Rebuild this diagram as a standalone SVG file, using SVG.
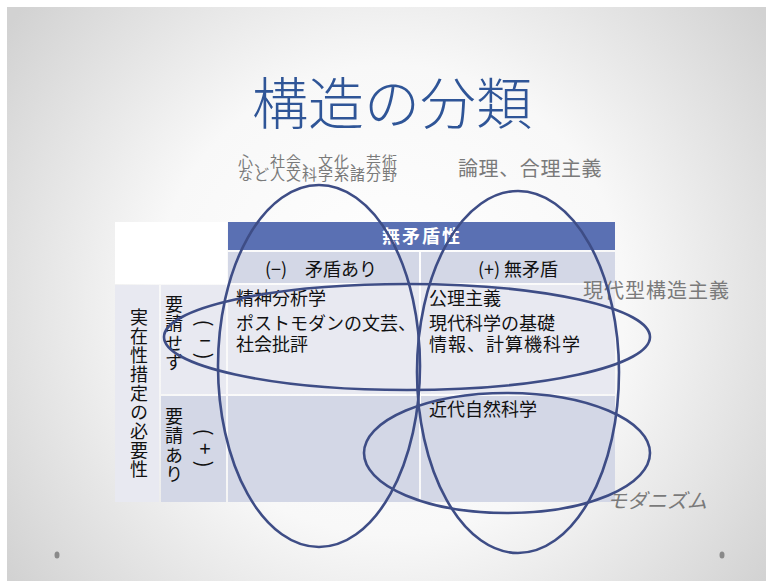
<svg xmlns="http://www.w3.org/2000/svg" width="766" height="581" viewBox="0 0 766 581">
<defs>
<radialGradient id="bg" cx="390" cy="300" r="470" gradientUnits="userSpaceOnUse">
<stop offset="0" stop-color="#ffffff"/>
<stop offset="0.5" stop-color="#f8f8f8"/>
<stop offset="1" stop-color="#d2d2d2"/>
</radialGradient>
<style>
.jp{font-family:"Noto Sans CJK JP","Noto Sans CJK SC",sans-serif;}
.title{font-size:56px;fill:#2f5597;font-weight:300;}
.gray{fill:#7a7a7a;font-size:20px;}
.cell{fill:#111111;font-size:18px;}
.vert{writing-mode:vertical-rl;text-orientation:upright;}
.paren{fill:#111111;font-size:20px;}
.hdr{fill:#ffffff;font-size:18px;font-weight:bold;}
.ell{fill:none;stroke:#3e4d86;stroke-width:2.6;}
.c-light{fill:#e8e9f1;}
.c-dark{fill:#d3d7e6;}
.c-head{fill:#5a70b3;}
</style>
</defs>
<rect x="0" y="0" width="766" height="581" fill="#ffffff"/>
<rect x="7" y="7" width="759" height="574" fill="url(#bg)"/>
<ellipse cx="57" cy="555" rx="2.5" ry="3.5" fill="#8a8a8a"/>
<ellipse cx="722" cy="555" rx="2.5" ry="3.5" fill="#8a8a8a"/>

<g id="title"><text class="jp title" x="392" y="124" text-anchor="middle">構造の分類</text></g>

<g id="table">
<rect x="115" y="222" width="112" height="62" fill="#ffffff"/>
<rect class="c-head" x="228" y="222" width="387" height="28"/>
<rect class="c-dark" x="228" y="252" width="191" height="31"/>
<rect class="c-dark" x="421" y="252" width="194" height="31"/>
<rect class="c-light" x="115" y="285" width="44" height="217"/>
<rect class="c-light" x="161" y="285" width="65" height="109"/>
<rect class="c-light" x="228" y="285" width="191" height="109"/>
<rect class="c-light" x="421" y="285" width="194" height="109"/>
<rect class="c-dark" x="161" y="396" width="65" height="106"/>
<rect class="c-dark" x="228" y="396" width="191" height="106"/>
<rect class="c-dark" x="421" y="396" width="194" height="106"/>
</g>

<g id="header"><text class="jp hdr" x="422" y="243" text-anchor="middle" letter-spacing="2">無矛盾性</text></g>
<g id="col-minus"><text class="jp cell" x="321" y="276" text-anchor="middle" xml:space="preserve">(−)　矛盾あり</text></g>
<g id="col-plus"><text class="jp cell" x="518" y="276" text-anchor="middle">(+) 無矛盾</text></g>

<g id="row-label">
<text class="jp cell vert" x="139" y="308" letter-spacing="1">実在性措定の必要性</text>
</g>
<g id="row1-label">
<text class="jp cell vert" x="174" y="295" font-size="19" letter-spacing="1.5">要請せず</text>
<text class="jp paren" text-anchor="middle" dominant-baseline="central" transform="translate(205,323) rotate(90)">(</text>
<text class="jp paren" x="205" y="339" text-anchor="middle" dominant-baseline="central">−</text>
<text class="jp paren" text-anchor="middle" dominant-baseline="central" transform="translate(205,356) rotate(90)">)</text>
</g>
<g id="row2-label">
<text class="jp cell vert" x="174" y="407" font-size="19" letter-spacing="1.5">要請あり</text>
<text class="jp paren" text-anchor="middle" dominant-baseline="central" transform="translate(205,432) rotate(90)">(</text>
<text class="jp paren" x="205" y="447" text-anchor="middle" dominant-baseline="central">+</text>
<text class="jp paren" text-anchor="middle" dominant-baseline="central" transform="translate(205,464) rotate(90)">)</text>
</g>

<g id="cell-r1c1">
<text class="jp cell" x="236" y="305">精神分析学</text>
<text class="jp cell" x="236" y="330">ポストモダンの文芸、</text>
<text class="jp cell" x="236" y="351">社会批評</text>
</g>
<g id="cell-r1c2">
<text class="jp cell" x="429" y="305">公理主義</text>
<text class="jp cell" x="429" y="330">現代科学の基礎</text>
<text class="jp cell" x="429" y="351" letter-spacing="1">情報、計算機科学</text>
</g>
<g id="cell-r2c2">
<text class="jp cell" x="429" y="416">近代自然科学</text>
</g>

<g id="label-humanities">
<text class="jp" fill="#7a7a7a" font-size="15" x="238" y="167" letter-spacing="1">心、社会、文化、芸術</text>
<text class="jp" fill="#7a7a7a" font-size="15" x="238" y="180" letter-spacing="1">など人文科学系諸分野</text>
</g>
<g id="label-logic"><text class="jp gray" x="458" y="176" letter-spacing="0.6">論理、合理主義</text></g>
<g id="label-modern-structuralism"><text class="jp gray" x="583" y="298" letter-spacing="1">現代型構造主義</text></g>
<g id="label-modernism"><text class="jp gray" x="607" y="508" font-style="italic">モダニズム</text></g>

<g id="connectors">
<ellipse class="ell" cx="319" cy="366" rx="101" ry="181"/>
<ellipse class="ell" cx="518" cy="372" rx="101" ry="181"/>
<ellipse class="ell" cx="407" cy="337" rx="243" ry="53"/>
<ellipse class="ell" cx="507" cy="453" rx="143" ry="60"/>
</g>
</svg>
